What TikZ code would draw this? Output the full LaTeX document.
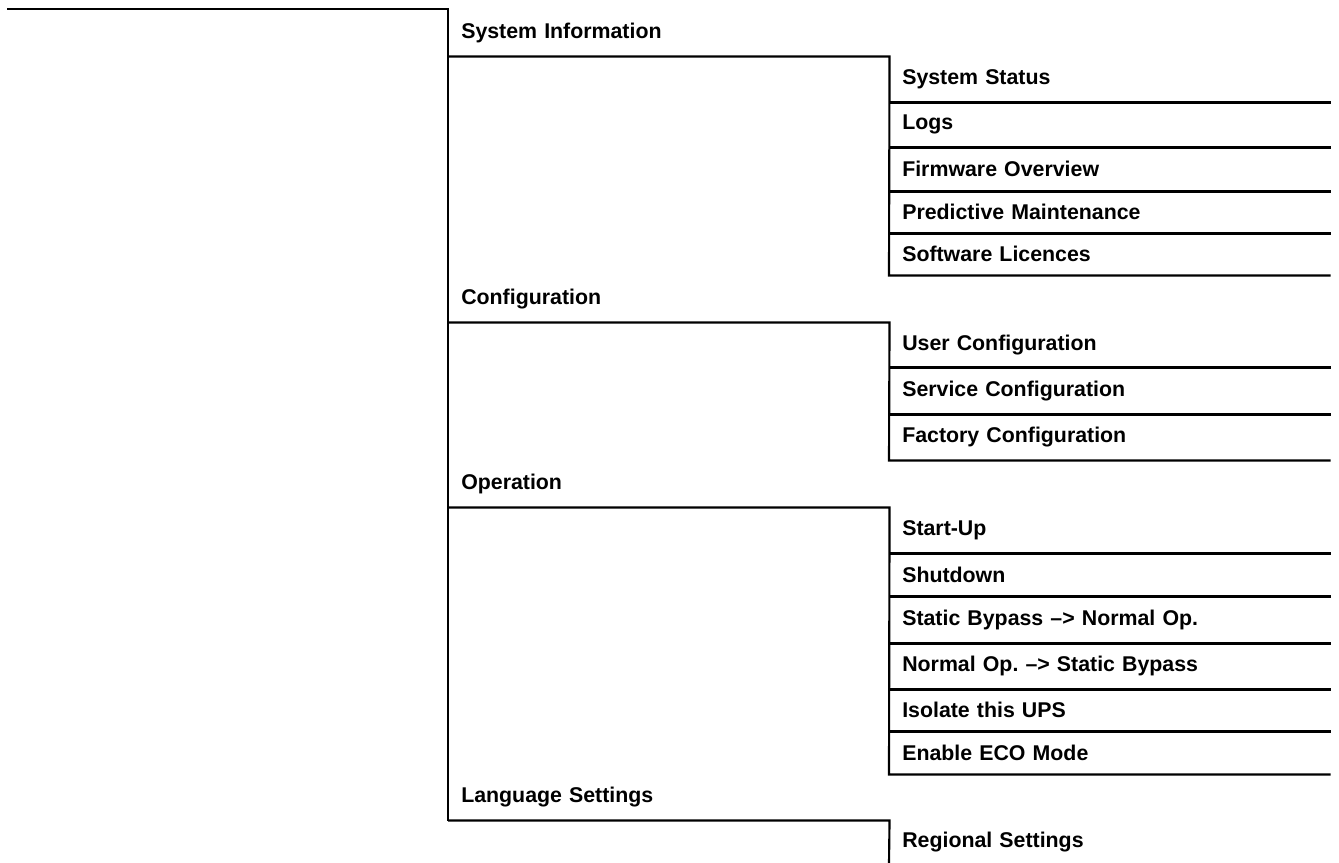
\documentclass[tikz,border=0pt]{standalone}
\usepackage{fontspec}
\setmainfont{Liberation Sans}
\frenchspacing

\begin{document}
\begin{tikzpicture}[x=0.75pt, y=-0.75pt,
    menu/.style={anchor=north west, inner xsep=9.75pt, inner ysep=0pt, text width=311.25pt, align=left, font=\fontsize{16}{19}\selectfont\bfseries},
    rowh/.style={minimum height=#1*0.75pt},
    frame/.style={draw=black, line width=1.6pt}]

    \useasboundingbox (0,0) rectangle (1339,863);

    \coordinate (root) at (7,9);

    \node[menu, rowh=47] (sysinfo) at (448,9) {System Information};
    \node[menu, rowh=46] (sysstat) at (889,56) {System Status};
    \node[menu, rowh=45] (logs) at (889,102) {Logs};
    \node[menu, rowh=44] (fw) at (889,147) {Firmware Overview};
    \node[menu, rowh=42] (pred) at (889,191) {Predictive Maintenance};
    \node[menu, rowh=42] (soft) at (889,233) {Software Licences};

    \node[menu, rowh=47] (config) at (448,275) {Configuration};
    \node[menu, rowh=45] (user) at (889,322) {User Configuration};
    \node[menu, rowh=47] (service) at (889,367) {Service Configuration};
    \node[menu, rowh=46] (factory) at (889,414) {Factory Configuration};

    \node[menu, rowh=47] (oper) at (448,460) {Operation};
    \node[menu, rowh=46] (startup) at (889,507) {Start-Up};
    \node[menu, rowh=43] (shutdown) at (889,553) {Shutdown};
    \node[menu, rowh=47] (sb_normal) at (889,596) {Static Bypass –> Normal Op.};
    \node[menu, rowh=46] (normal_sb) at (889,643) {Normal Op. –> Static Bypass};
    \node[menu, rowh=42] (isolate) at (889,689) {Isolate this UPS};
    \node[menu, rowh=43] (eco) at (889,731) {Enable ECO Mode};

    \node[menu, rowh=46] (lang) at (448,774) {Language Settings};
    \node[menu, rowh=43] (regional) at (889,820) {Regional Settings};

    \path[frame] (root) -| (lang.south west);
    \path[frame] (sysinfo.south west) -- (sysinfo.south east) -- (soft.south west) -- (soft.south east);
    \path[frame] (config.south west) -- (config.south east) -- (factory.south west) -- (factory.south east);
    \path[frame] (oper.south west) -- (oper.south east) -- (eco.south west) -- (eco.south east);
    \path[frame] (lang.south west) -- (lang.south east) -- (regional.south west);

    \foreach \item in {sysstat, logs, fw, pred, user, service, startup, shutdown, sb_normal, normal_sb, isolate}
        \path[frame] (\item.south west) -- (\item.south east);

\end{tikzpicture}
\end{document}
